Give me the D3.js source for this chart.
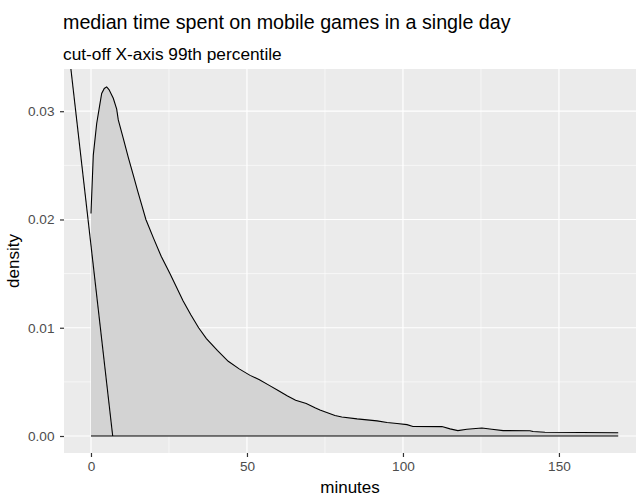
<!DOCTYPE html>
<html>
<head>
<meta charset="utf-8">
<script src="https://cdn.jsdelivr.net/npm/d3@7"></script>
<style>
  body { margin: 0; background: #ffffff; }
  svg { display: block; font-family: "Liberation Sans", Arial, sans-serif; }
</style>
</head>
<body>
<script>
// data
const minutes = [0, 0.74, 1.83, 2.88, 3.43, 4.26, 5.03, 5.77, 7.15, 8.24, 8.75, 10.35,
  12, 13.56, 15, 16.3, 17.6, 20, 22.5, 25.3, 27.5, 29.5, 32, 34.5, 37, 40.5, 44, 47.5,
  51, 54, 57, 60, 63, 65.6, 69, 71.8, 73.4, 78.2, 80.4, 85.3, 91.7, 94.9, 98.1, 101.3,
  103.2, 112.5, 115.1, 117.6, 120.5, 125.3, 128.5, 132.1, 140.7, 141.7, 145.5, 169];
const density = [0.02055, 0.02595, 0.02887, 0.0307, 0.03164, 0.0321, 0.03225, 0.032,
  0.0312, 0.0302, 0.0292, 0.0275, 0.0257, 0.0241, 0.0226, 0.0213, 0.02, 0.0183,
  0.0166, 0.015, 0.0137, 0.0125, 0.0112, 0.01, 0.009, 0.0079, 0.0069, 0.0062, 0.0056,
  0.0052, 0.0047, 0.0042, 0.0037, 0.0033, 0.003, 0.0026, 0.0024, 0.0019, 0.00175,
  0.00158, 0.0014, 0.00125, 0.00115, 0.00105, 0.00088, 0.00087, 0.00066, 0.0005,
  0.00062, 0.00074, 0.00063, 0.0005, 0.00049, 0.00041, 0.00034, 0.0003];

// the straight line that crosses the left of the panel
const lineMinutes = [-8.85, 6.96];
const lineDensity = [0.04, 0];

const xTicks = [0, 50, 100, 150];
const xMinor = [25, 75, 125];
const yTicks = [0, 0.01, 0.02, 0.03];
const yMinor = [0.005, 0.015, 0.025];

const width = 643, height = 498;
const panelLeft = 64, panelRight = 636, panelTop = 69, panelBottom = 453;

const svg = d3
  .select("body")
  .append("svg")
  .attr("width", width)
  .attr("height", height);

const x = d3.scaleLinear().domain([-8.65, 174.7]).range([panelLeft, panelRight]);
const y = d3.scaleLinear().domain([-0.00157, 0.0339]).range([panelBottom, panelTop]);

// panel background
svg.append("rect")
  .attr("x", panelLeft)
  .attr("y", panelTop)
  .attr("width", panelRight - panelLeft)
  .attr("height", panelBottom - panelTop)
  .attr("fill", "#ebebeb");

svg.append("clipPath")
  .attr("id", "panel")
  .append("rect")
  .attr("x", panelLeft)
  .attr("y", panelTop)
  .attr("width", panelRight - panelLeft)
  .attr("height", panelBottom - panelTop);

// grid lines
svg.selectAll(".xminor").data(xMinor).join("line")
  .attr("x1", d => x(d)).attr("x2", d => x(d))
  .attr("y1", panelTop).attr("y2", panelBottom)
  .attr("stroke", "#ffffff").attr("stroke-width", 0.6);
svg.selectAll(".yminor").data(yMinor).join("line")
  .attr("x1", panelLeft).attr("x2", panelRight)
  .attr("y1", d => y(d)).attr("y2", d => y(d))
  .attr("stroke", "#ffffff").attr("stroke-width", 0.6);
svg.selectAll(".xmajor").data(xTicks).join("line")
  .attr("x1", d => x(d)).attr("x2", d => x(d))
  .attr("y1", panelTop).attr("y2", panelBottom)
  .attr("stroke", "#ffffff").attr("stroke-width", 1.2);
svg.selectAll(".ymajor").data(yTicks).join("line")
  .attr("x1", panelLeft).attr("x2", panelRight)
  .attr("y1", d => y(d)).attr("y2", d => y(d))
  .attr("stroke", "#ffffff").attr("stroke-width", 1.2);

const points = minutes.map((m, i) => [m, density[i]]);
const plot = svg.append("g").attr("clip-path", "url(#panel)");

// density area
plot.append("path")
  .datum(points)
  .attr("fill", "#d3d3d3")
  .attr("d", d3.area().x(d => x(d[0])).y0(y(0)).y1(d => y(d[1])));

// upper outline
plot.append("path")
  .datum(points)
  .attr("fill", "none")
  .attr("stroke", "#000000")
  .attr("stroke-width", 1.1)
  .attr("d", d3.line().x(d => x(d[0])).y(d => y(d[1])));

// lower outline along zero
plot.append("path")
  .datum(points)
  .attr("fill", "none")
  .attr("stroke", "#000000")
  .attr("stroke-width", 1.1)
  .attr("d", d3.line().x(d => x(d[0])).y(() => y(0)));

// straight line
plot.append("path")
  .datum(lineMinutes.map((m, i) => [m, lineDensity[i]]))
  .attr("fill", "none")
  .attr("stroke", "#000000")
  .attr("stroke-width", 1.1)
  .attr("d", d3.line().x(d => x(d[0])).y(d => y(d[1])));

// axes
const xAxis = svg.append("g")
  .attr("transform", `translate(0,${panelBottom})`)
  .call(d3.axisBottom(x).tickValues(xTicks).tickFormat(d3.format("d")).tickSize(4).tickPadding(4.3));
const yAxis = svg.append("g")
  .attr("transform", `translate(${panelLeft},0)`)
  .call(d3.axisLeft(y).tickValues(yTicks).tickFormat(d3.format(".2f")).tickSize(4).tickPadding(5.5));

[xAxis, yAxis].forEach(a => {
  a.select(".domain").remove();
  a.selectAll(".tick line").attr("stroke", "#333333").attr("stroke-width", 1.2);
  a.selectAll(".tick text")
    .attr("fill", "#4d4d4d")
    .attr("font-size", "13.6px")
    .attr("font-family", "Liberation Sans, Arial, sans-serif");
});

// titles
svg.append("text")
  .attr("x", panelLeft - 1)
  .attr("y", 29)
  .attr("font-size", "19.7px")
  .attr("fill", "#000000")
  .text("median time spent on mobile games in a single day");

svg.append("text")
  .attr("x", panelLeft - 1)
  .attr("y", 60)
  .attr("font-size", "17.3px")
  .attr("fill", "#000000")
  .text("cut-off X-axis 99th percentile");

svg.append("text")
  .attr("x", (panelLeft + panelRight) / 2)
  .attr("y", 493)
  .attr("text-anchor", "middle")
  .attr("font-size", "17px")
  .text("minutes");

svg.append("text")
  .attr("transform", `translate(19,${(panelTop + panelBottom) / 2}) rotate(-90)`)
  .attr("text-anchor", "middle")
  .attr("font-size", "17px")
  .text("density");
</script>
</body>
</html>
